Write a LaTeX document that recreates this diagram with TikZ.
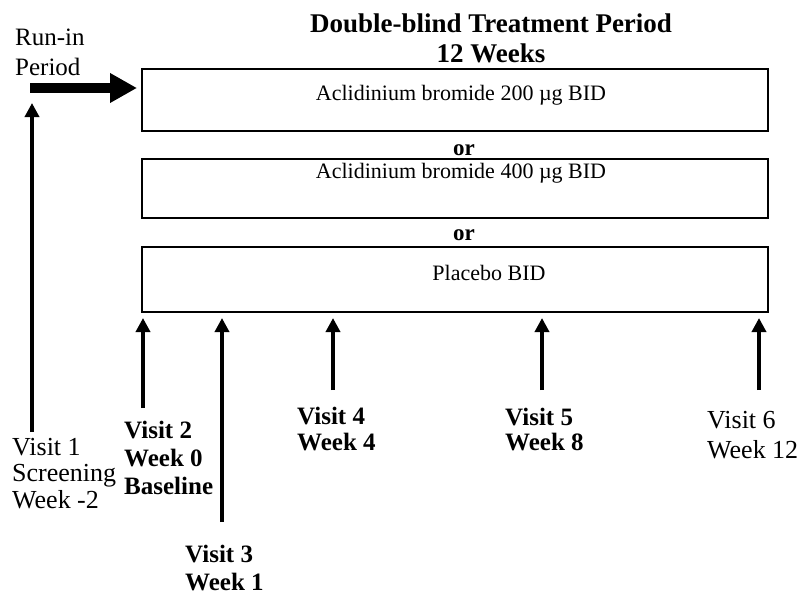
\documentclass[tikz,border=0pt]{standalone}
\usepackage{fontspec}
\setmainfont{Liberation Serif}
\usetikzlibrary{arrows.meta}
\begin{document}
\begin{tikzpicture}[x=1pt,y=-1pt,
  armbox/.style={draw, line width=1.8pt, minimum width=626pt, inner sep=0pt},
  armtext/.style={inner sep=0pt, anchor=base, font=\fontsize{22}{24}\selectfont},
  ortext/.style={inner sep=0pt, anchor=base, font=\fontsize{23}{25}\selectfont\bfseries},
  visitlab/.style={inner sep=0pt, anchor=base west, align=left, font=\fontsize{26}{26.5}\selectfont},
  visitbold/.style={visitlab, font=\fontsize{25}{28}\selectfont\bfseries},
  visitarrow/.style={line width=3.5pt, -{Triangle[length=14pt,width=14pt]}},
  runarrow/.style={line width=10pt, -{Triangle[length=27pt,width=28pt]}}]
\useasboundingbox (0,0) rectangle (803,594);
% title (base anchor = last line baseline)
\node[inner sep=0pt, anchor=base, align=center, font=\fontsize{27}{30}\selectfont\bfseries] (title) at (491,63) {Double-blind Treatment Period\\12 Weeks};
% run-in
\node[inner sep=0pt, anchor=base west, align=left, font=\fontsize{25}{30}\selectfont] (runin) at (15,75) {Run-in\\Period};
% boxes
\node[armbox, minimum height=62pt] (box1) at (455,100) {};
\node[armbox, minimum height=59pt] (box2) at (455,188.5) {};
\node[armbox, minimum height=65pt] (box3) at (455,279.5) {};
\node[armtext] (t1) at (461,100) {Aclidinium bromide 200 µg BID};
\node[armtext] (t2) at (461,178) {Aclidinium bromide 400 µg BID};
\node[armtext] (t3) at (489,280) {Placebo BID};
\node[ortext] (or1) at (464,155) {or};
\node[ortext] (or2) at (464,240) {or};
% run-in arrow
\coordinate (rstart) at (30,88);
\coordinate (rend) at (137,88);
\draw[runarrow] (rstart) -- (rend);
% visit arrows
\coordinate (v1a) at (32,432); \coordinate (v1b) at (32,103);
\coordinate (v2a) at (143,408); \coordinate (v2b) at (143,318);
\coordinate (v3a) at (222,522); \coordinate (v3b) at (222,318);
\coordinate (v4a) at (333,390); \coordinate (v4b) at (333,318);
\coordinate (v5a) at (542,390); \coordinate (v5b) at (542,318);
\coordinate (v6a) at (759,390); \coordinate (v6b) at (759,318);
\draw[visitarrow] (v1a) -- (v1b);
\draw[visitarrow] (v2a) -- (v2b);
\draw[visitarrow] (v3a) -- (v3b);
\draw[visitarrow] (v4a) -- (v4b);
\draw[visitarrow] (v5a) -- (v5b);
\draw[visitarrow] (v6a) -- (v6b);
% labels (base anchor = last line baseline)
\node[visitlab] (l1) at (12,508) {Visit 1\\Screening\\Week -2};
\node[visitbold] (l2) at (124,494) {Visit 2\\Week 0\\Baseline};
\node[visitbold] (l3) at (185,590) {Visit 3\\Week 1};
\node[visitbold, font=\fontsize{25}{26}\selectfont\bfseries] (l4) at (297,450) {Visit 4\\Week 4};
\node[visitbold, font=\fontsize{25}{25}\selectfont\bfseries] (l5) at (505,450) {Visit 5\\Week 8};
\node[visitlab, font=\fontsize{26}{30}\selectfont] (l6) at (707,458) {Visit 6\\Week 12};
\end{tikzpicture}
\end{document}
